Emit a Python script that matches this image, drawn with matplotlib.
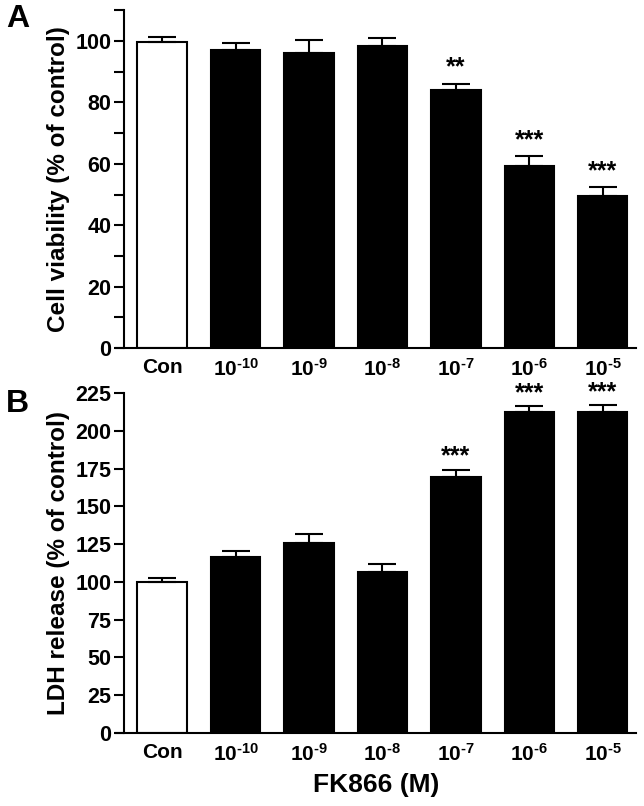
import numpy as np
import matplotlib.pyplot as plt
from matplotlib.ticker import MultipleLocator

# Data
groups = ['Con', '10$^{\u201010}$', '10$^{\u20109}$', '10$^{\u20108}$',
          '10$^{\u20107}$', '10$^{\u20106}$', '10$^{\u20105}$']
viability = [99.5, 97.0, 96.2, 98.3, 84.0, 59.4, 49.4]
viability_err = [1.8, 2.2, 4.1, 2.6, 2.1, 3.0, 3.1]
viability_sig = ['', '', '', '', '**', '***', '***']
ldh = [100.1, 116.2, 126.0, 106.5, 169.5, 212.6, 212.2]
ldh_err = [2.7, 4.2, 5.5, 5.3, 4.6, 3.5, 4.6]
ldh_sig = ['', '', '', '', '***', '***', '***']

plt.rcParams['font.family'] = ['Liberation Sans', 'DejaVu Sans']
plt.rcParams['font.weight'] = 'bold'
plt.rcParams['mathtext.fontset'] = 'custom'
plt.rcParams['mathtext.rm'] = 'Liberation Sans:bold'
plt.rcParams['mathtext.it'] = 'Liberation Sans:bold'
plt.rcParams['mathtext.bf'] = 'Liberation Sans:bold'

fig = plt.figure(figsize=(6.44, 8.06), dpi=100)
ax_a = fig.add_axes([0.1797, 0.568, 0.808, 0.4194])
ax_b = fig.add_axes([0.1797, 0.0906, 0.808, 0.4218])

x = np.arange(len(groups))
colors = ['white'] + ['black'] * (len(groups) - 1)


def draw_panel(ax, vals, errs, sig, ylim, major, minor, ylabel, star_off):
    ax.bar(x, vals, width=0.675, color=colors, edgecolor='black', linewidth=1.5, zorder=2)
    ax.errorbar(x, vals, yerr=[np.zeros(len(vals)), errs], fmt='none', ecolor='black',
                elinewidth=1.5, capsize=10, capthick=1.5, zorder=3)
    for xi, v, e, s in zip(x, vals, errs, sig):
        if s:
            ax.annotate(s, (xi, v + e), xytext=(0, star_off), textcoords='offset points',
                        ha='center', va='center', fontsize=18, fontweight='bold',
                        annotation_clip=False)
    ax.set_xlim(-0.634, 6.455)
    ax.set_ylim(*ylim)
    ax.yaxis.set_major_locator(MultipleLocator(major))
    if minor:
        ax.yaxis.set_minor_locator(MultipleLocator(minor))
    ax.spines['top'].set_visible(False)
    ax.spines['right'].set_visible(False)
    ax.spines['left'].set_position(('data', -0.52))
    ax.spines['left'].set_linewidth(1.5)
    ax.spines['bottom'].set_linewidth(1.5)
    ax.set_xticks(x)
    ax.set_xticklabels(groups)
    ax.tick_params(axis='x', length=0, pad=7, labelsize=15)
    ax.tick_params(axis='y', which='major', length=7, width=1.5, labelsize=15.5, pad=2)
    ax.tick_params(axis='y', which='minor', length=7, width=1.5)
    ax.set_ylabel(ylabel, fontsize=17.5, fontweight='bold', labelpad=4)


draw_panel(ax_a, viability, viability_err, viability_sig, (0, 110), 20, 10,
           'Cell viability (% of control)', 11.5)
draw_panel(ax_b, ldh, ldh_err, ldh_sig, (0, 225), 25, None,
           'LDH release (% of control)', 9.5)
ax_b.set_xlabel('FK866 (M)', fontsize=19, fontweight='bold', labelpad=6)

fig.text(0.009, 0.976, 'A', fontsize=23, fontweight='bold', va='center')
fig.text(0.009, 0.499, 'B', fontsize=23, fontweight='bold', va='center')

plt.savefig('out.png', dpi=100)
plt.close()
